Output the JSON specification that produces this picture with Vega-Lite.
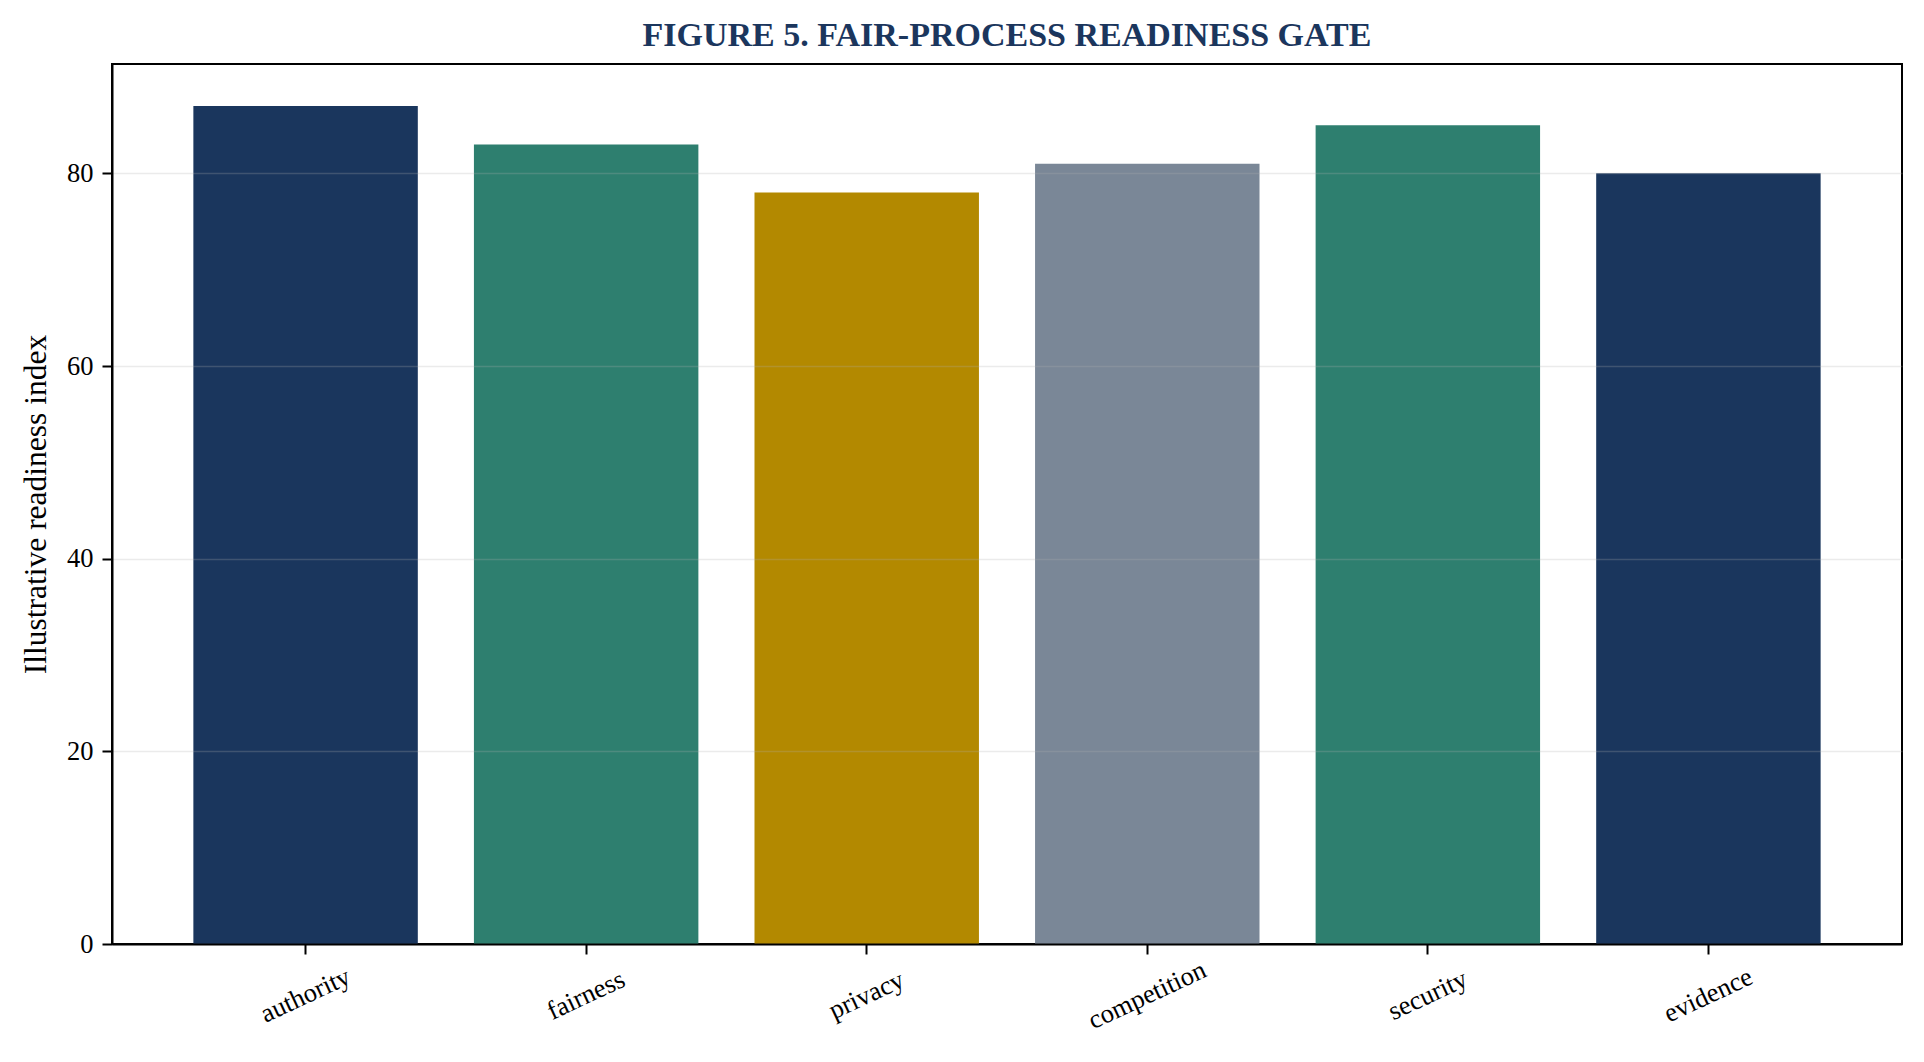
{
  "$schema": "https://vega.github.io/schema/vega-lite/v6.json",
  "description": "Figure 5. Fair-process readiness gate: illustrative readiness index by dimension.",
  "width": 1790,
  "height": 880,
  "autosize": {"type": "none"},
  "padding": {"left": 112, "top": 64, "right": 22, "bottom": 118},
  "background": "white",
  "title": {
    "text": "FIGURE 5. FAIR-PROCESS READINESS GATE",
    "font": "Liberation Serif",
    "fontSize": 34,
    "fontWeight": "bold",
    "color": "#1b365d",
    "anchor": "middle",
    "offset": 11
  },
  "data": {
    "values": [
      {"dimension": "authority", "score": 87},
      {"dimension": "fairness", "score": 83},
      {"dimension": "privacy", "score": 78},
      {"dimension": "competition", "score": 81},
      {"dimension": "security", "score": 85},
      {"dimension": "evidence", "score": 80}
    ]
  },
  "mark": {"type": "bar"},
  "encoding": {
    "x": {
      "field": "dimension",
      "type": "nominal",
      "sort": null,
      "scale": {"paddingInner": 0.2, "paddingOuter": 0.29},
      "axis": {
        "title": null,
        "labelAngle": -25,
        "labelAlign": "center",
        "labelBaseline": "middle",
        "labelPadding": 41,
        "labelFont": "Liberation Serif",
        "labelFontSize": 26.5,
        "labelColor": "#000",
        "tickSize": 10,
        "tickWidth": 2,
        "tickColor": "#000",
        "domainColor": "#000",
        "domainWidth": 2,
        "grid": false,
        "zindex": 1
      }
    },
    "y": {
      "field": "score",
      "type": "quantitative",
      "scale": {"domain": [0, 91.35], "nice": false, "zero": true},
      "axis": {
        "title": "Illustrative readiness index",
        "titleFont": "Liberation Serif",
        "titleFontSize": 31.5,
        "titleFontWeight": "normal",
        "titleColor": "#000",
        "titleAngle": -90,
        "titleAlign": "center",
        "titleBaseline": "alphabetic",
        "titleX": -67,
        "titleY": 440,
        "values": [0, 20, 40, 60, 80],
        "labelFont": "Liberation Serif",
        "labelFontSize": 26.5,
        "labelColor": "#000",
        "labelPadding": 9,
        "tickSize": 10,
        "tickWidth": 2,
        "tickColor": "#000",
        "domainColor": "#000",
        "domainWidth": 2,
        "grid": true,
        "gridColor": "#b0b0b0",
        "gridOpacity": 0.25,
        "gridWidth": 1.5,
        "zindex": 1
      }
    },
    "color": {
      "field": "dimension",
      "type": "nominal",
      "legend": null,
      "scale": {
        "domain": ["authority", "fairness", "privacy", "competition", "security", "evidence"],
        "range": ["#1a365d", "#2e7f6f", "#b38900", "#7a8797", "#2e7f6f", "#1a365d"]
      }
    }
  },
  "config": {
    "font": "Liberation Serif",
    "view": {"stroke": "#000", "strokeWidth": 2}
  }
}
